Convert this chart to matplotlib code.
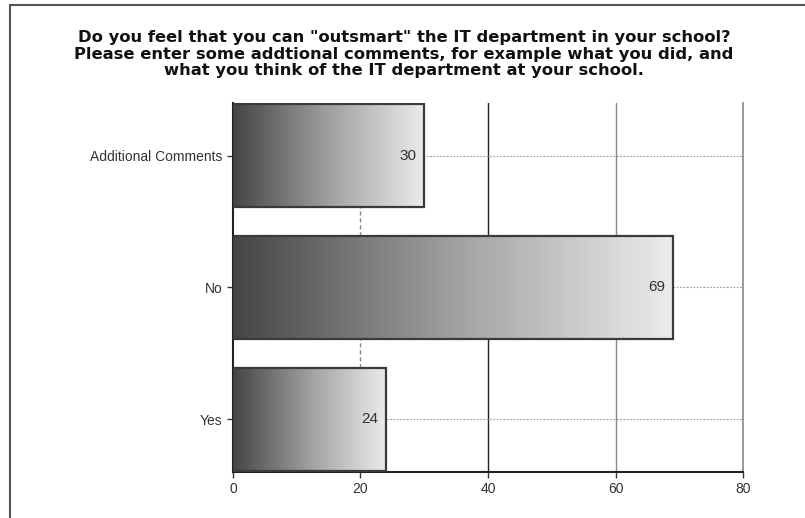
import numpy as np
import matplotlib.pyplot as plt
from matplotlib.colors import LinearSegmentedColormap
from matplotlib.patches import Rectangle

plt.rcParams['font.family'] = ['Liberation Sans', 'DejaVu Sans']

categories = ['Yes', 'No', 'Additional Comments']
counts = [24, 69, 30]
xticks = [0, 20, 40, 60, 80]
title = ('Do you feel that you can "outsmart" the IT department in your school?\n'
         'Please enter some addtional comments, for example what you did, and\n'
         'what you think of the IT department at your school.')

fig = plt.figure(figsize=(8.05, 5.18), dpi=100)
ax = fig.add_axes([0.2894, 0.0888, 0.6336, 0.7124])

# border round the whole chart (scan shows left and top edges)
fig.patches.append(Rectangle((10 / 805, -0.05), 1.2, 1.0 - 5 / 518 + 0.05,
                             transform=fig.transFigure, fill=False,
                             edgecolor='#555555', lw=1.5))

ax.set_xlim(0, 80)
ax.set_ylim(-0.4, 2.4)

cmap = LinearSegmentedColormap.from_list('g', ['#454545', '#a0a0a0', '#ececec'])
grad = np.linspace(0, 1, 256).reshape(1, -1)
h = 0.78
for i, v in enumerate(counts):
    rect = Rectangle((0, i - h / 2), v, h, facecolor='none', edgecolor='#3a3a3a',
                     lw=1.6, zorder=4)
    ax.add_patch(rect)
    im = ax.imshow(grad, cmap=cmap, aspect='auto', extent=(0, v, i - h / 2, i + h / 2),
                   zorder=3, interpolation='bilinear')
    im.set_clip_path(rect)
    ax.text(v - 1.2, i, str(v), ha='right', va='center', fontsize=11,
            color='#333333', zorder=5)

# grid
for x, c, ls in [(20, '#888888', (0, (3, 2))), (40, '#222222', '-'), (60, '#888888', '-')]:
    ax.axvline(x, color=c, lw=1, ls=ls, zorder=1)
for i in range(len(categories)):
    ax.axhline(i, color='#999999', lw=0.8, ls=(0, (1.5, 1.5)), zorder=1)

ax.set_yticks(range(len(categories)))
ax.set_yticklabels(categories, fontsize=10, color='#333333')
ax.set_xticks(xticks)
ax.set_xticklabels([str(t) for t in xticks], fontsize=10, color='#333333')
ax.tick_params(length=4, color='#333333', width=1)
ax.spines['top'].set_visible(False)
ax.spines['right'].set_color('#888888')
ax.spines['right'].set_linewidth(1.2)
for s in ['left', 'bottom']:
    ax.spines[s].set_color('#222222')
    ax.spines[s].set_linewidth(1.5)

fig.text(0.502, 0.942, title, ha='center', va='top', fontsize=11.8, fontweight='bold',
         family='DejaVu Sans', linespacing=1.13, color='#111111')

fig.savefig('out.png', dpi=100)
